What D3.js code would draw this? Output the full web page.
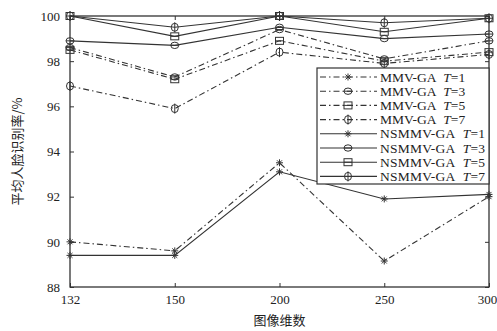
<!DOCTYPE html>
<html>
<head>
<meta charset="utf-8">
<script src="https://cdn.jsdelivr.net/npm/d3@7"></script>
<style>
  body { margin: 0; background: #fff; }
  text { font-family: "Liberation Serif", "DejaVu Serif", serif; fill: #222; }
  .cjk { font-family: "Noto Sans CJK SC", sans-serif; }
</style>
</head>
<body>
<svg id="chart"></svg>
<script>
const dims = ["132", "150", "200", "250", "300"];
const yTicks = [88, 90, 92, 94, 96, 98, 100];

const mmv1 = [90.0, 89.6, 93.5, 89.15, 92.0];
const mmv3 = [98.6, 97.3, 99.4, 98.1, 98.9];
const mmv5 = [98.5, 97.2, 98.9, 98.0, 98.4];
const mmv7 = [96.9, 95.9, 98.4, 97.9, 98.3];
const ns1 = [89.4, 89.4, 93.1, 91.9, 92.1];
const ns3 = [98.9, 98.7, 99.5, 99.0, 99.2];
const ns5 = [100, 99.1, 100, 99.3, 99.9];
const ns7 = [100, 99.5, 100, 99.7, 99.9];

const seriesNames = ["MMV-GA", "MMV-GA", "MMV-GA", "MMV-GA",
                     "NSMMV-GA", "NSMMV-GA", "NSMMV-GA", "NSMMV-GA"];
const seriesT = [1, 3, 5, 7, 1, 3, 5, 7];
const seriesMarker = ["star", "circle", "square", "diamond", "star", "circle", "square", "diamond"];
const seriesData = [mmv1, mmv3, mmv5, mmv7, ns1, ns3, ns5, ns7];

const W = 497, H = 331;
const margin = {left: 70, right: 8, top: 16, bottom: 44};
const svg = d3.select("#chart").attr("width", W).attr("height", H);

const x = d3.scalePoint().domain(dims).range([margin.left, W - margin.right]);
const y = d3.scaleLinear().domain([88, 100]).range([H - margin.bottom, margin.top]);

const ink = "#333";

// frame
svg.append("rect")
    .attr("x", margin.left).attr("y", margin.top)
    .attr("width", W - margin.right - margin.left)
    .attr("height", H - margin.bottom - margin.top)
    .attr("fill", "none").attr("stroke", ink).attr("stroke-width", 1.3);

// axes with inward ticks
const axB = svg.append("g").attr("transform", `translate(0,${H - margin.bottom})`)
    .call(d3.axisBottom(x).tickSize(-4).tickPadding(8));
const axT = svg.append("g").attr("transform", `translate(0,${margin.top})`)
    .call(d3.axisTop(x).tickSize(-4).tickFormat(""));
const axL = svg.append("g").attr("transform", `translate(${margin.left},0)`)
    .call(d3.axisLeft(y).tickValues(yTicks).tickSize(-4).tickPadding(10));
const axR = svg.append("g").attr("transform", `translate(${W - margin.right},0)`)
    .call(d3.axisRight(y).tickValues(yTicks).tickSize(-4).tickFormat(""));
[axB, axT, axL, axR].forEach(a => {
    a.select(".domain").remove();
    a.selectAll("line").attr("stroke", ink);
    a.selectAll("text").attr("font-size", 13).attr("fill", "#222")
        .style("font-family", "'Liberation Serif', serif");
});
// last x label sits at the window edge; pull it in a little
axB.selectAll(".tick text").filter(d => d === "300").attr("dx", -2);

// axis titles
svg.append("text").attr("class", "cjk")
    .attr("x", x("200")).attr("y", 325)
    .attr("text-anchor", "middle").attr("font-size", 13)
    .text("图像维数");
svg.append("text").attr("class", "cjk")
    .attr("transform", `translate(22,${(margin.top + H - margin.bottom) / 2}) rotate(-90)`)
    .attr("text-anchor", "middle").attr("font-size", 13)
    .text("平均人脸识别率/%");

const dashFor = i => i < 4 ? "6,3,1.5,3" : null;

const drawMarker = (g, type, cx, cy) => {
    const m = g.append("g").attr("transform", `translate(${cx},${cy})`)
        .attr("fill", "none").attr("stroke", ink).attr("stroke-width", 1);
    if (type === "star") {
        [0, 45, 90, 135].forEach(a => {
            const r = 3.5, t = a * Math.PI / 180;
            m.append("line")
                .attr("x1", -r * Math.cos(t)).attr("y1", -r * Math.sin(t))
                .attr("x2", r * Math.cos(t)).attr("y2", r * Math.sin(t));
        });
    } else if (type === "circle") {
        m.append("ellipse").attr("rx", 4).attr("ry", 3.2);
        m.append("line").attr("x1", -4).attr("x2", 4);
    } else if (type === "square") {
        m.append("rect").attr("x", -4).attr("y", -3.5).attr("width", 8).attr("height", 7);
        m.append("line").attr("x1", -4).attr("x2", 4);
    } else {
        m.append("ellipse").attr("rx", 3.5).attr("ry", 4);
        m.append("line").attr("y1", -5).attr("y2", 5);
    }
};

const line = d3.line().x((d, i) => x(dims[i])).y(d => y(d));

seriesData.forEach((vals, i) => {
    svg.append("path").datum(vals)
        .attr("d", line)
        .attr("fill", "none").attr("stroke", ink).attr("stroke-width", 1.1)
        .attr("stroke-dasharray", dashFor(i));
    const g = svg.append("g");
    vals.forEach((v, j) => drawMarker(g, seriesMarker[i], x(dims[j]), y(v)));
});

// legend
const lg = {x: 317, y: 68, w: W - margin.right - 317, h: 116, row: 14.2};
svg.append("rect").attr("x", lg.x).attr("y", lg.y)
    .attr("width", lg.w).attr("height", lg.h)
    .attr("fill", "#fff").attr("stroke", ink).attr("stroke-width", 1.2);
seriesData.forEach((vals, i) => {
    const cy = lg.y + 9 + i * lg.row;
    svg.append("line").attr("x1", lg.x + 3).attr("x2", lg.x + 60)
        .attr("y1", cy).attr("y2", cy)
        .attr("stroke", ink).attr("stroke-width", 1.1)
        .attr("stroke-dasharray", dashFor(i));
    drawMarker(svg, seriesMarker[i], lg.x + 31, cy);
    const t = svg.append("text").attr("x", lg.x + 63).attr("y", cy + 4.5)
        .attr("font-size", 13.5).attr("textLength", i < 4 ? null : 105);
    t.append("tspan").text(seriesNames[i] + "\u00a0\u00a0");
    t.append("tspan").attr("font-style", "italic").text("T");
    t.append("tspan").text("=" + seriesT[i]);
});
</script>
</body>
</html>
